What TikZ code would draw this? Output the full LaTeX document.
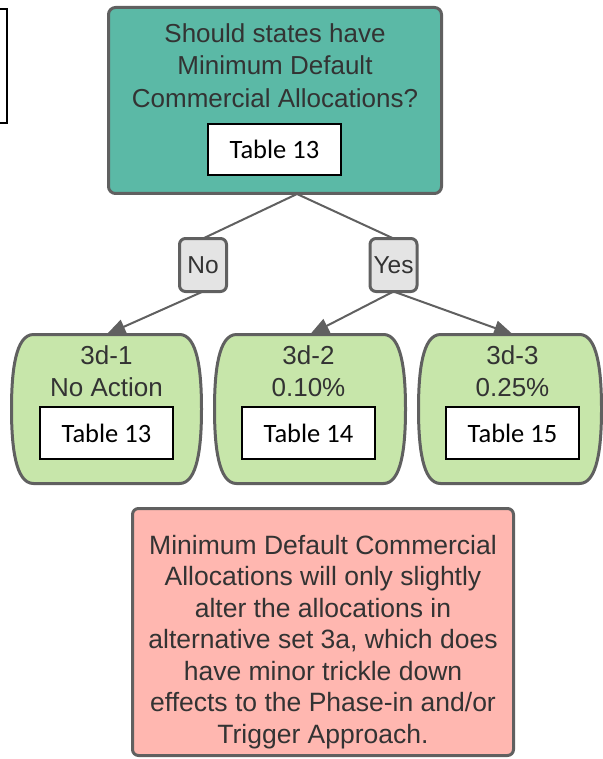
\documentclass[tikz,border=0pt]{standalone}
\usepackage{fontspec}
\setmainfont{Liberation Sans}
\newfontfamily\tablefont{Carlito}
\usepackage{tikz}
\usetikzlibrary{arrows.meta}

\definecolor{qteal}{RGB}{91,185,166}
\definecolor{leafgreen}{RGB}{199,230,170}
\definecolor{notepink}{RGB}{255,183,176}
\definecolor{taggray}{RGB}{228,228,228}
\definecolor{edgegray}{RGB}{96,96,96}
\definecolor{inkgray}{RGB}{51,51,51}

\begin{document}
\begin{tikzpicture}[
	x=1pt, y=-1pt,
	every node/.style={inner sep=0pt, outer sep=0pt},
	boxtext/.style={text=inkgray, align=center, font=\fontsize{26}{32.5}\selectfont},
	notetext/.style={text=inkgray, align=center, font=\fontsize{26.5}{31.5}\selectfont},
	questionbox/.style={draw=edgegray, line width=3pt, fill=qteal, rounded corners=7pt,
		minimum width=333pt, minimum height=186pt},
	tagbox/.style={draw=edgegray, line width=3pt, fill=taggray, rounded corners=6pt,
		minimum width=47pt, minimum height=53pt, text=inkgray, font=\fontsize{24.5}{28}\selectfont},
	notebox/.style={draw=edgegray, line width=3pt, fill=notepink, rounded corners=6pt,
		minimum width=381pt, minimum height=247pt},
	tablebox/.style={draw=black, line width=1.6pt, fill=white, minimum width=133pt,
		minimum height=51.5pt, font=\tablefont\fontsize{26.5}{30}\selectfont},
	leafedge/.style={draw=edgegray, line width=3pt, fill=leafgreen},
	link/.style={draw=edgegray, line width=2pt},
	arrowlink/.style={link, -{Triangle[length=19pt, width=15pt]}},
	]
	
	\useasboundingbox (0,0) rectangle (602,759);
	
	% Frame cut off at the left edge
	\draw[line width=2pt] (-20,9) rectangle (7,123);
	
	% Question at the top
	\node (question) [questionbox] at (275,100.5) {};
	\node (qtext) [boxtext] at (275,65.5) {Should states have\\Minimum Default\\Commercial Allocations?};
	\node (qtable) [tablebox] at (274.5,149.5) {Table 13};
	\coordinate (qfoot) at (297,194);
	
	% Answer tags
	\node (no) [tagbox] at (203,265) {No};
	\node (yes) [tagbox] at (393.5,265) {Yes};
	
	% Leaf outlines (bulging sides)
	\node (leaf1) [minimum width=190pt, minimum height=149pt] at (106.5,409) {};
	\node (leaf2) [minimum width=191pt, minimum height=149pt] at (310,409) {};
	\node (leaf3) [minimum width=183pt, minimum height=149pt] at (510,409) {};
	\foreach \lf in {leaf1,leaf2,leaf3}
		\draw[leafedge] ([xshift=22pt]\lf.north west) -- ([xshift=-22pt]\lf.north east)
			.. controls ([xshift=-4pt]\lf.north east) and ([yshift=38pt]\lf.east) .. (\lf.east)
			.. controls ([yshift=-38pt]\lf.east) and ([xshift=-4pt]\lf.south east) .. ([xshift=-22pt]\lf.south east)
			-- ([xshift=22pt]\lf.south west)
			.. controls ([xshift=4pt]\lf.south west) and ([yshift=-38pt]\lf.west) .. (\lf.west)
			.. controls ([yshift=38pt]\lf.west) and ([xshift=4pt]\lf.north west) .. cycle;
	
	% Leaf texts and tables
	\node (l1text) [boxtext] at (106.5,371) {3d-1\\No Action};
	\node (l2text) [boxtext] at (308.5,371) {3d-2\\0.10\%};
	\node (l3text) [boxtext] at (512.5,371) {3d-3\\0.25\%};
	\node (l1table) [tablebox] at (106.5,433) {Table 13};
	\node (l2table) [tablebox] at (308.5,433) {Table 14};
	\node (l3table) [tablebox] at (512.5,433) {Table 15};
	
	% Note at the bottom
	\node (note) [notebox] at (323,632) {};
	\node (ntext) [notetext] at (323,642) {Minimum Default Commercial\\Allocations will only slightly\\alter the allocations in\\alternative set 3a, which does\\have minor trickle down\\effects to the Phase-in and/or\\Trigger Approach.};
	
	% Connectors
	\draw[link] (qfoot) -- (no.north);
	\draw[link] (qfoot) -- (yes.north);
	\draw[arrowlink] (no.south) -- (leaf1.north);
	\draw[arrowlink] (yes.south) -- (leaf2.north);
	\draw[arrowlink] (yes.south) -- ([xshift=3pt]leaf3.north);
	
\end{tikzpicture}
\end{document}
